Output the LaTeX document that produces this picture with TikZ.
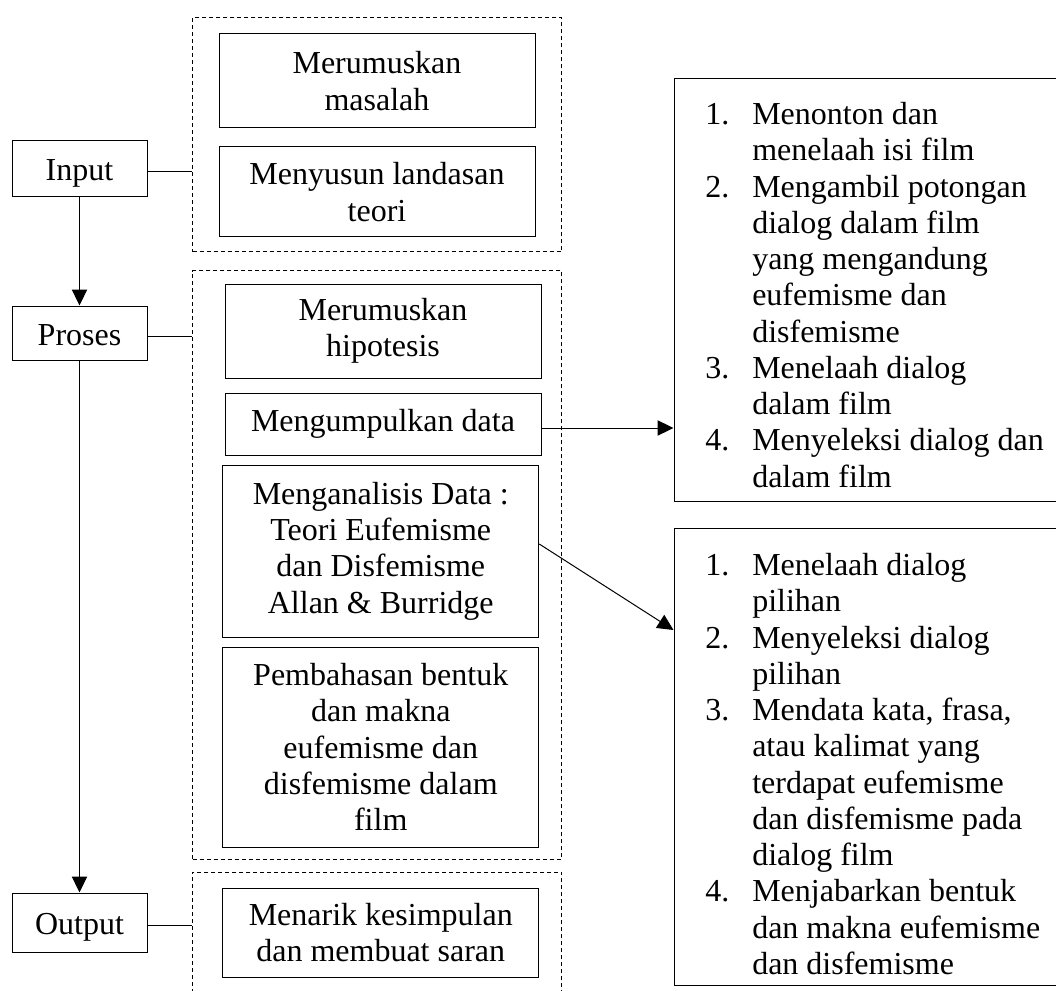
\documentclass[tikz,border=0pt]{standalone}
\usepackage{fontspec}
\setmainfont{Liberation Serif}
\usetikzlibrary{arrows.meta,calc}
\newcommand{\itm}[2]{\makebox[35.25pt][l]{#1}#2}
\newcommand{\cnt}[1]{\hspace*{35.25pt}#1}
\begin{document}
\begin{tikzpicture}[x=0.75pt,y=-0.75pt,
  every node/.style={font=\fontsize{24}{27.2}\selectfont},
  box/.style={draw, line width=0.75pt, inner sep=0pt, align=center},
  inbox/.style={box, minimum width=237pt},
  sidebox/.style={box, minimum width=101.25pt, text height=20pt, text depth=2pt},
  grp/.style={draw, dash pattern=on 3pt off 2.25pt, line width=0.75pt, inner sep=0pt, minimum width=277.1pt},
  listbox/.style={draw, line width=0.75pt, inner sep=0pt, anchor=north west, minimum width=300pt},
  listtext/.style={inner sep=0pt, anchor=north west, align=left},
  line/.style={line width=0.75pt},
  arr/.style={line width=0.75pt, -{Triangle[length=12pt,width=11.5pt]}}
]
\useasboundingbox (0,0) rectangle (1056,991);
\clip (0,0) rectangle (1056,991);

% dashed groups
\node[grp, minimum height=175.5pt] (d1) at (377.25,135) {};
\node[grp, minimum height=441pt] (d2) at (377.25,565) {};
\node[grp, minimum height=103.5pt] (d3) at (377.25,941) {};

% inner boxes
\node[inbox, minimum height=70.5pt] (masalah) at (377,81) {Merumuskan\\masalah};
\node[inbox, minimum height=67.5pt] (teori) at (377,192) {Menyusun landasan\\teori};
\node[inbox, minimum height=70.5pt] (hipo) at (383,331) {Merumuskan\\hipotesis};
\node[inbox, minimum height=46.5pt] (data) at (383,424) {Mengumpulkan data};
\node[inbox, minimum height=129pt] (ana) at (380.75,551) {Menganalisis Data :\\Teori Eufemisme\\dan Disfemisme\\Allan \& Burridge};
\node[inbox, minimum height=150pt] (bahas) at (380.75,747) {Pembahasan bentuk\\dan makna\\eufemisme dan\\disfemisme dalam\\film};
\node[inbox, minimum height=66.75pt] (simpul) at (380.75,932.5) {Menarik kesimpulan\\dan membuat saran};

% side boxes
\node[sidebox, minimum height=42pt] (in) at (79.5,169) {Input};
\node[sidebox, minimum height=40.5pt] (pr) at (79.5,333) {Proses};
\node[sidebox, minimum height=44.25pt] (out) at (79.5,922.5) {Output};

% right list boxes
\node[listbox, minimum height=317.25pt] (r1) at (673.5,78) {};
\node[listbox, minimum height=342.75pt] (r2) at (673.5,528) {};
\node[listtext] (t1) at (705,102) {\itm{1.}{Menonton dan}\\
\cnt{menelaah isi film}\\
\itm{2.}{Mengambil potongan}\\
\cnt{dialog dalam film}\\
\cnt{yang mengandung}\\
\cnt{eufemisme dan}\\
\cnt{disfemisme}\\
\itm{3.}{Menelaah dialog}\\
\cnt{dalam film}\\
\itm{4.}{Menyeleksi dialog dan}\\
\cnt{dalam film}};
\node[listtext] (t2) at (705,553) {\itm{1.}{Menelaah dialog}\\
\cnt{pilihan}\\
\itm{2.}{Menyeleksi dialog}\\
\cnt{pilihan}\\
\itm{3.}{Mendata kata, frasa,}\\
\cnt{atau kalimat yang}\\
\cnt{terdapat eufemisme}\\
\cnt{dan disfemisme pada}\\
\cnt{dialog film}\\
\itm{4.}{Menjabarkan bentuk}\\
\cnt{dan makna eufemisme}\\
\cnt{dan disfemisme}};

% connectors
\coordinate (inL) at ([yshift=-2.25pt]in.east);
\coordinate (prL) at ([yshift=-2.25pt]pr.east);
\coordinate (outL) at ([yshift=-2.25pt]out.east);
\draw[line] (inL) -- (inL -| d1.west);
\draw[line] (prL) -- (prL -| d2.west);
\draw[line] (outL) -- (outL -| d3.west);
\draw[arr] (in.south) -- (pr.north);
\draw[arr] (pr.south) -- (out.north);
\coordinate (dataR) at ([yshift=-3pt]data.east);
\draw[arr] (dataR) -- (dataR -| r1.west);
\draw[arr] ([yshift=5.25pt]ana.east) -- ([yshift=-76.5pt]r2.north west);
\end{tikzpicture}
\end{document}
